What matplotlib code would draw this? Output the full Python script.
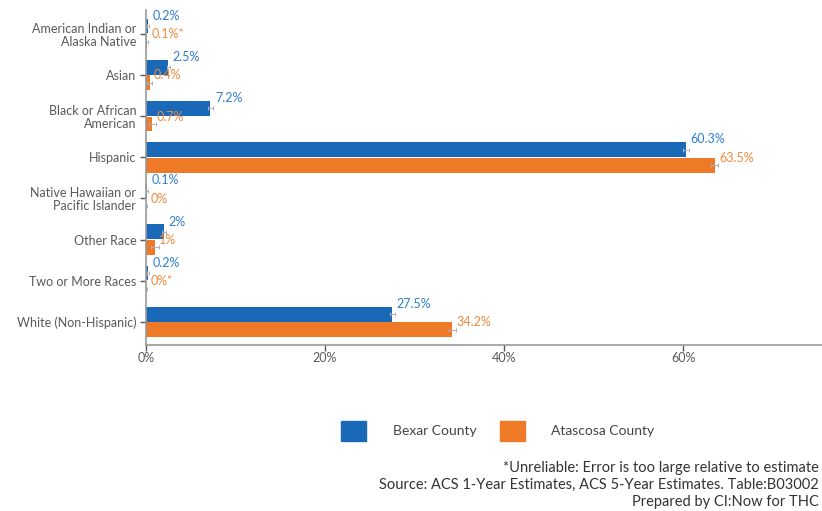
import matplotlib.pyplot as plt
import matplotlib.patches as mpatches
import numpy as np

plt.rcParams['font.family'] = ['Lato', 'DejaVu Sans']

categories = [
    "American Indian or\nAlaska Native",
    "Asian",
    "Black or African\nAmerican",
    "Hispanic",
    "Native Hawaiian or\nPacific Islander",
    "Other Race",
    "Two or More Races",
    "White (Non-Hispanic)",
]
bexar = [0.2, 2.5, 7.2, 60.3, 0.1, 2.0, 0.2, 27.5]
atascosa = [0.1, 0.4, 0.7, 63.5, 0.0, 1.0, 0.0, 34.2]
bexar_labels = ["0.2%", "2.5%", "7.2%", "60.3%", "0.1%", "2%", "0.2%", "27.5%"]
atascosa_labels = ["0.1%*", "0.4%", "0.7%", "63.5%", "0%", "1%", "0%*", "34.2%"]
bexar_moe = [0.1, 0.2, 0.3, 0.3, 0.1, 0.2, 0.1, 0.3]
atascosa_moe = [0.1, 0.3, 0.4, 0.4, 0.1, 0.4, 0.1, 0.4]

footnotes = [
    "*Unreliable: Error is too large relative to estimate",
    "Source: ACS 1-Year Estimates, ACS 5-Year Estimates. Table:B03002",
    "Prepared by CI:Now for THC",
]

blue = "#1a69b8"
orange = "#ee7a27"
blue_txt = "#2b7fcf"
orange_txt = "#f0893a"
grey = "#595959"

fig = plt.figure(figsize=(8.22, 5.11), dpi=100)
ax = fig.add_axes([146 / 822, 1 - 345 / 511, 1 - 146 / 822, 335 / 511])

y = np.arange(len(categories))
h = 0.36
off = 0.19
ax.barh(y - off, bexar, height=h, color=blue, xerr=bexar_moe,
        error_kw=dict(ecolor="#b0b0b0", elinewidth=0.7, capsize=1.5, capthick=0.7))
ax.barh(y + off, atascosa, height=h, color=orange, xerr=atascosa_moe,
        error_kw=dict(ecolor="#b0b0b0", elinewidth=0.7, capsize=1.5, capthick=0.7))

for i in range(len(categories)):
    ax.text(bexar[i] + 0.5, y[i] - off - h / 2 - 0.07, bexar_labels[i],
            color=blue_txt, fontsize=9, va="center", ha="left")
    ax.text(atascosa[i] + 0.5, y[i] + off - h / 2, atascosa_labels[i],
            color=orange_txt, fontsize=9, va="center", ha="left")

ax.set_xlim(0, 75.5)
ax.set_ylim(7.56, -0.58)
ax.set_yticks(y)
ax.set_yticklabels(categories, fontsize=9, color=grey, linespacing=1.1)
ax.set_xticks([0, 20, 40, 60])
ax.set_xticklabels(["0%", "20%", "40%", "60%"], fontsize=9, color=grey)
ax.tick_params(axis="both", color="#555555", length=4, width=1)
ax.tick_params(axis="y", pad=3)
ax.tick_params(axis="x", pad=1)
for s in ["top", "right"]:
    ax.spines[s].set_visible(False)
for s in ["left", "bottom"]:
    ax.spines[s].set_color("#9a9a9a")
    ax.spines[s].set_linewidth(1.2)

handles = [mpatches.Patch(color=blue, label="Bexar County"),
           mpatches.Patch(color=orange, label="Atascosa County")]
leg = fig.legend(handles=handles, loc="center", bbox_to_anchor=(498 / 822, 1 - 431 / 511),
                 ncol=2, frameon=False, fontsize=10, handlelength=1.8, handleheight=1.8,
                 handletextpad=1.9, columnspacing=1.7)
for t in leg.get_texts():
    t.set_color("#444444")

for k, line in enumerate(footnotes):
    fig.text(0.996, 1 - (468 + 17 * k) / 511, line,
             fontsize=10.5, color="#333333", ha="right", va="center")

fig.savefig("out.png", dpi=100)
